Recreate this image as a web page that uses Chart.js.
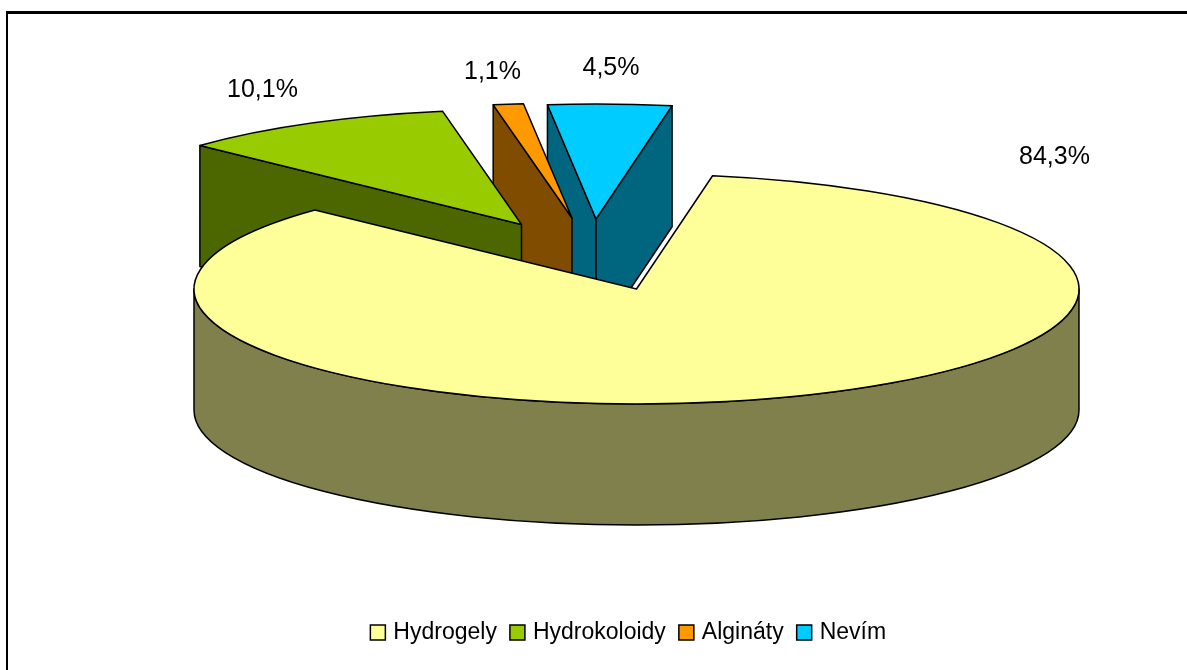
<!DOCTYPE html>
<html>
<head>
<meta charset="utf-8">
<title>Hydrogely</title>
<script src="https://cdn.jsdelivr.net/npm/chart.js@4"></script>
<style>
  html, body { margin: 0; background: #fff; overflow: hidden; }
  #frame { position: absolute; left: 6px; top: 11px; right: 0; bottom: 0; border-top: 3px solid #000; border-left: 2px solid #000; }
  #chart { position: absolute; left: 0; top: 0; }
</style>
</head>
<body>
<div id="frame"></div>
<canvas id="chart" width="1187" height="670"></canvas>
<script>
const categories = ['Hydrogely', 'Hydrokoloidy', 'Algináty', 'Nevím'];
const shares = [84.3, 10.1, 1.1, 4.5];
const topColors = ['#FFFF99', '#99CC00', '#FF9900', '#00CCFF'];
const sideColors = ['#80804C', '#4C6600', '#804C00', '#006680'];

/* Pie as seen from above: ellipse on screen and height of the wall */
const PIE = { cx: 636.5, cy: 289, rx: 442.5, ry: 115, depth: 121 };
const FIRST_ANGLE = 9.9;

/* How far each slice is pulled out of the pie, in pixels */
const pulled = [[0, 0], [-115, -64.5], [-64.5, -71], [-40.5, -70]];
const labelSpots = [[1054.5, 157], [262.5, 90], [492.5, 72], [611, 68]];

const OUTLINE = 1.5;

function rim(i, angle) {
    return [
        PIE.cx + pulled[i][0] + PIE.rx * Math.cos(angle),
        PIE.cy + pulled[i][1] + PIE.ry * Math.sin(angle)
    ];
}

function paint(ctx, color) {
    ctx.fillStyle = color;
    ctx.fill();
    ctx.lineWidth = OUTLINE;
    ctx.strokeStyle = '#000';
    ctx.lineJoin = 'round';
    ctx.stroke();
}

/* Flat wall from the centre of the slice to its rim */
function radialWall(ctx, i, angle) {
    const x0 = PIE.cx + pulled[i][0];
    const y0 = PIE.cy + pulled[i][1];
    const [x1, y1] = rim(i, angle);
    ctx.beginPath();
    ctx.moveTo(x0, y0);
    ctx.lineTo(x1, y1);
    ctx.lineTo(x1, y1 + PIE.depth);
    ctx.lineTo(x0, y0 + PIE.depth);
    ctx.closePath();
    paint(ctx, sideColors[i]);
}

/* Curved wall, only the part that faces the viewer */
function frontWall(ctx, i, start, end) {
    const x0 = PIE.cx + pulled[i][0];
    const y0 = PIE.cy + pulled[i][1];
    const turn = Math.PI * 2;
    const a0 = ((start % turn) + turn) % turn;
    const a1 = a0 + (end - start);
    [0, turn].forEach((base) => {
        const from = Math.max(a0, base);
        const to = Math.min(a1, base + Math.PI);
        if (to <= from) return;
        ctx.beginPath();
        ctx.ellipse(x0, y0, PIE.rx, PIE.ry, 0, from, to);
        ctx.ellipse(x0, y0 + PIE.depth, PIE.rx, PIE.ry, 0, to, from, true);
        ctx.closePath();
        paint(ctx, sideColors[i]);
    });
}

function drawSlice(ctx, arc, i) {
    const { startAngle, endAngle, outerRadius, x, y } = arc.getProps(['startAngle', 'endAngle', 'outerRadius', 'x', 'y']);
    const x0 = PIE.cx + pulled[i][0];
    const y0 = PIE.cy + pulled[i][1];

    /* Cut faces turned away from the viewer are skipped */
    if (Math.cos(startAngle) < 0) radialWall(ctx, i, startAngle);
    if (Math.cos(endAngle) > 0) radialWall(ctx, i, endAngle);
    frontWall(ctx, i, startAngle, endAngle);

    /* Top face is the library's own arc, squashed to the ellipse */
    ctx.save();
    ctx.translate(x0, y0);
    ctx.scale(PIE.rx / outerRadius, PIE.ry / outerRadius);
    ctx.translate(-x, -y);
    arc.draw(ctx);
    ctx.restore();

    /* Outline goes on afterwards so the line width is not squashed too */
    ctx.beginPath();
    ctx.moveTo(x0, y0);
    ctx.ellipse(x0, y0, PIE.rx, PIE.ry, 0, startAngle, endAngle);
    ctx.closePath();
    ctx.lineWidth = OUTLINE;
    ctx.strokeStyle = '#000';
    ctx.stroke();
}

const pie3d = {
    id: 'pie3d',
    beforeDatasetsDraw(chart) {
        const arcs = chart.getDatasetMeta(0).data;
        /* Back to front, the big slice covers the feet of the others */
        [3, 2, 1, 0].forEach((i) => drawSlice(chart.ctx, arcs[i], i));
        return false;
    },
    afterDraw(chart) {
        const ctx = chart.ctx;
        ctx.save();
        ctx.font = '25px "Liberation Sans", Arial, sans-serif';
        ctx.fillStyle = '#000';
        ctx.textAlign = 'center';
        ctx.textBaseline = 'middle';
        shares.forEach((v, i) => {
            ctx.fillText(v.toFixed(1).replace('.', ',') + '%', labelSpots[i][0], labelSpots[i][1]);
        });
        ctx.restore();
    }
};

new Chart(document.getElementById('chart'), {
    type: 'pie',
    plugins: [pie3d],
    data: {
        labels: categories,
        datasets: [{
            data: shares,
            backgroundColor: topColors,
            borderWidth: 0
        }]
    },
    options: {
        responsive: false,
        animation: false,
        rotation: FIRST_ANGLE,
        layout: { padding: { left: 73, bottom: 16 } },
        plugins: {
            tooltip: { enabled: false },
            legend: {
                position: 'bottom',
                labels: {
                    font: { family: '"Liberation Sans", Arial, sans-serif', size: 23 },
                    color: '#000',
                    usePointStyle: true,
                    pointStyle: 'rect',
                    boxWidth: 8,
                    boxHeight: 15,
                    padding: 16.5,
                    generateLabels(chart) {
                        return Chart.overrides.pie.plugins.legend.labels.generateLabels(chart).map((item) => {
                            item.strokeStyle = '#000';
                            item.lineWidth = OUTLINE;
                            return item;
                        });
                    }
                }
            }
        }
    }
});
</script>
</body>
</html>
